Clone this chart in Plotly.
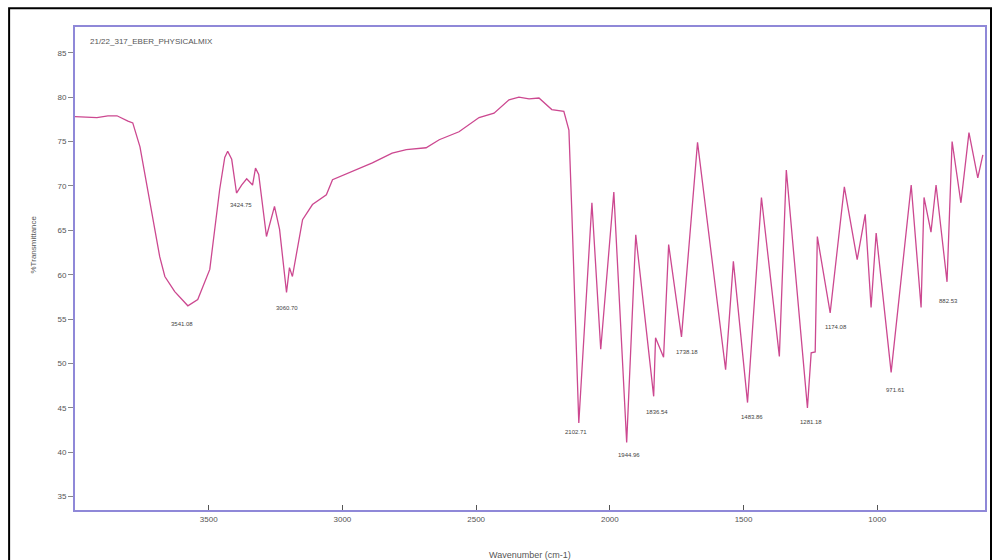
import plotly.graph_objects as go

# Spectrum data (wavenumber cm-1, %Transmittance)
wavenumber = [4000, 3918, 3877, 3843, 3802, 3784, 3757, 3683, 3664, 3627, 3578, 3541, 3496,
              3459, 3440, 3429, 3414, 3396, 3377, 3358, 3336, 3325, 3313, 3284, 3254, 3235,
              3209, 3198, 3187, 3149, 3112, 3060, 3037, 2963, 2888, 2814, 2761, 2687, 2638,
              2564, 2489, 2433, 2377, 2340, 2302, 2265, 2217, 2172, 2153, 2142, 2116, 2067,
              2034, 1985, 1937, 1903, 1836, 1829, 1799, 1780, 1732, 1672, 1567, 1538, 1485,
              1433, 1366, 1340, 1261, 1247, 1232, 1224, 1176, 1123, 1075, 1045, 1023, 1004,
              948, 873, 836, 825, 799, 780, 739, 720, 687, 657, 624, 605]
transmittance = [77.8, 77.7, 77.9, 77.9, 77.3, 77.1, 74.4, 62.0, 59.8, 58.1, 56.5, 57.2, 60.6,
                 69.6, 73.2, 73.9, 73.0, 69.2, 70.1, 70.8, 70.1, 72.0, 71.3, 64.3, 67.7, 65.1,
                 58.0, 60.8, 59.8, 66.2, 67.9, 69.0, 70.7, 71.6, 72.6, 73.7, 74.1, 74.3, 75.2,
                 76.1, 77.7, 78.2, 79.7, 80.0, 79.8, 79.9, 78.6, 78.4, 76.3, 67.0, 43.3, 68.1,
                 51.6, 69.3, 41.1, 64.5, 46.3, 52.9, 50.7, 63.4, 53.0, 74.9, 49.3, 61.5, 45.6,
                 68.7, 50.8, 71.8, 45.0, 51.2, 51.3, 64.3, 55.7, 69.9, 61.7, 66.8, 56.3, 64.7,
                 49.0, 70.1, 56.3, 68.7, 64.8, 70.1, 59.2, 75.0, 68.1, 76.0, 70.9, 73.5]

# Peak labels
peak_text = ["3541.08", "3424.75", "3060.70", "2102.71", "1944.96", "1836.54",
             "1738.18", "1483.86", "1281.18", "1174.08", "971.61", "882.53"]
peak_wn = [3601, 3381, 3209, 2127, 1929, 1825, 1713, 1470, 1247, 1153, 933, 735]
peak_T = [54.5, 67.9, 56.3, 42.3, 39.7, 44.5, 51.3, 44.0, 43.4, 54.1, 47.0, 57.0]

x_ticks = [3500, 3000, 2500, 2000, 1500, 1000]
y_ticks = [35, 40, 45, 50, 55, 60, 65, 70, 75, 80, 85]

sample_name = "21/22_317_EBER_PHYSICALMIX"

axis_col = "#8f88d8"
font_fam = "Liberation Sans, Arial, sans-serif"

fig = go.Figure()
fig.add_trace(go.Scatter(x=wavenumber, y=transmittance, mode="lines",
                         line=dict(color="#cc4890", width=1.3), showlegend=False,
                         hoverinfo="x+y"))

for t, xw, yt in zip(peak_text, peak_wn, peak_T):
    fig.add_annotation(x=xw, y=yt, text=t, showarrow=False,
                       font=dict(size=6, color="#444", family=font_fam))

fig.add_annotation(x=0.014, y=0.969, xref="paper", yref="paper", text=sample_name,
                   showarrow=False, xanchor="left", yanchor="middle",
                   font=dict(size=8, color="#555", family=font_fam))
fig.add_annotation(x=-0.046, y=0.55, xref="paper", yref="paper", text="%Transmittance",
                   showarrow=False, textangle=-90, xanchor="center", yanchor="middle",
                   font=dict(size=8, color="#555", family=font_fam))
fig.add_annotation(x=0.5, y=-0.093, xref="paper", yref="paper", text="Wavenumber (cm-1)",
                   showarrow=False, xanchor="center", yanchor="middle",
                   font=dict(size=9, color="#555", family=font_fam))

# outer black frame
fig.add_shape(type="rect", xref="paper", yref="paper", x0=-0.0724, x1=1.0066,
              y0=-0.12, y1=1.039, line=dict(color="black", width=2), layer="below")

fig.update_layout(
    width=997, height=560,
    margin=dict(l=75, r=10, t=27, b=50),
    paper_bgcolor="white", plot_bgcolor="white",
    font=dict(family=font_fam, size=8, color="#555"),
    xaxis=dict(range=[4000, 597], tickvals=x_ticks, ticks="inside", ticklen=5,
               tickcolor="#555", showgrid=False, zeroline=False, showline=True,
               linecolor=axis_col, linewidth=2, mirror=True,
               tickfont=dict(size=8, color="#555")),
    yaxis=dict(range=[33.5, 87.9], tickvals=y_ticks, ticks="outside", ticklen=5,
               tickcolor="#888", showgrid=False, zeroline=False, showline=True,
               linecolor=axis_col, linewidth=2, mirror=True,
               tickfont=dict(size=8, color="#555")),
)

fig.write_html("out.html", config={"displayModeBar": False},
               post_script="document.body.style.margin='0px';document.body.style.overflow='hidden';")
